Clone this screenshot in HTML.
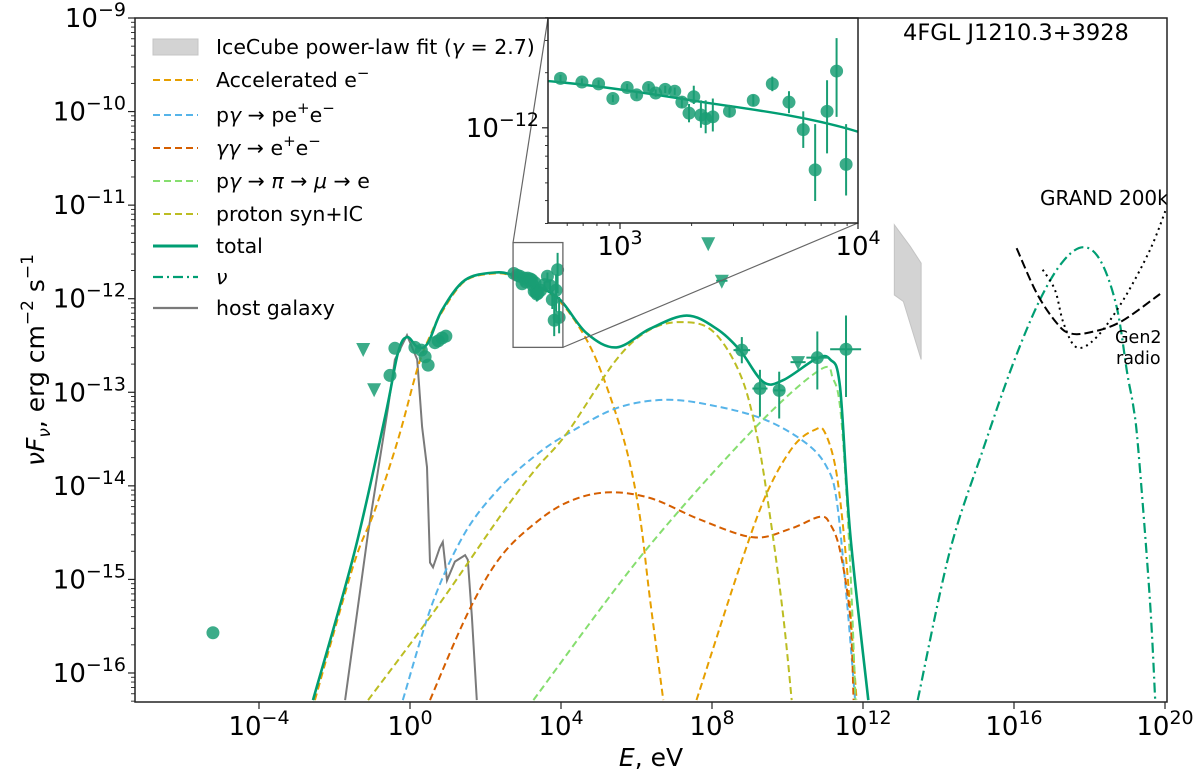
<!DOCTYPE html>
<html><head><meta charset="utf-8"><title>SED 4FGL J1210.3+3928</title>
<style>
html,body{margin:0;padding:0;background:#fff;overflow:hidden;width:1200px;height:777px;}
svg{display:block;font-family:"DejaVu Sans","Liberation Sans",sans-serif;}
</style></head>
<body>
<svg id="chart" width="1200" height="777" viewBox="0 0 1200 777" xmlns="http://www.w3.org/2000/svg">
<defs>
<clipPath id="mainClip"><rect x="135" y="18" width="1032" height="684"/></clipPath>
<clipPath id="insetClip"><rect x="548" y="18" width="310" height="205"/></clipPath>
</defs>
<rect x="0" y="0" width="1200" height="777" fill="#fff"/>
<g id="main" clip-path="url(#mainClip)"></g>
<g id="over"></g>
</svg>
<script>
// ---------- data (log10 E [eV], log10 vFv [erg cm^-2 s^-1]) ----------
const totalE   = [-2.57,-1.46,-0.66,-0.32,-0.08,0.21,0.48,0.85,1.46,2.25,2.74,3.3,3.97,4.68,5.47,6.36,7.33,8.12,8.74,9.36,9.89,10.77,11.13,11.39,11.66,12.14];
const totalF   = [-16.29,-14.69,-13.26,-12.58,-12.41,-12.52,-12.47,-12.12,-11.80,-11.72,-11.75,-11.85,-12.01,-12.37,-12.52,-12.32,-12.18,-12.32,-12.55,-12.89,-12.87,-12.64,-12.65,-12.94,-14.51,-16.29];
const accE1    = [-2.52,-1.5,-0.93,-0.32,0.21,0.55,0.85,1.46,2.25,2.74,3.3,3.97,4.68,5.21,5.74,6.09,6.36,6.71];
const accF1    = [-16.29,-14.85,-14.26,-13.51,-12.73,-12.38,-12.14,-11.81,-11.73,-11.76,-11.86,-12.03,-12.44,-12.94,-13.62,-14.33,-15.22,-16.29];
const accE2    = [7.59,8.74,9.45,10.15,10.73,10.99,11.30,11.57,11.83];
const accF2    = [-16.29,-14.86,-14.08,-13.58,-13.40,-13.43,-13.87,-14.86,-16.29];
const bheE     = [-0.19,0.6,1.46,2.38,3.31,4.15,5.47,6.80,8.12,9.45,10.51,11.04,11.30,11.57,11.79];
const bheF     = [-16.29,-15.25,-14.50,-14.02,-13.68,-13.45,-13.17,-13.08,-13.15,-13.30,-13.55,-13.80,-14.15,-15.22,-16.29];
const ggE      = [0.53,1.53,2.38,3.31,4.2,5.21,6.36,7.68,9.09,10.07,10.86,11.13,11.39,11.66,11.75];
const ggF      = [-16.29,-15.36,-14.77,-14.40,-14.17,-14.07,-14.13,-14.36,-14.55,-14.46,-14.33,-14.41,-14.69,-15.40,-16.29];
const pionE    = [3.27,6.18,9.09,10.86,11.21,11.39,11.55,11.7,11.8];
const pionF    = [-16.29,-14.72,-13.40,-12.76,-12.86,-13.15,-14.0,-15.2,-16.29];
const psynE    = [-1.11,0.66,2.38,3.31,4.15,5.47,6.36,7.24,8.03,8.74,9.18,9.54,9.89,10.11];
const psynF    = [-16.29,-15.33,-14.33,-13.83,-13.44,-12.65,-12.33,-12.25,-12.35,-12.80,-13.44,-14.33,-15.40,-16.29];
const hostE    = [-1.72,-1.11,-0.58,-0.40,-0.08,0.19,0.32,0.45,0.53,0.61,0.79,0.87,0.98,1.19,1.46,1.53,1.64,1.77];
const hostF    = [-16.29,-14.50,-13.16,-12.65,-12.39,-12.65,-13.37,-13.80,-14.82,-14.87,-14.66,-14.60,-15.01,-14.81,-14.74,-14.79,-15.40,-16.29];
const nuE      = [13.45,14.3,15.19,15.98,16.69,17.3,17.84,18.3,18.72,19.0,19.16,19.29,19.6,19.74];
const nuF      = [-16.29,-14.7,-13.60,-12.69,-12.01,-11.6,-11.45,-11.6,-12.09,-12.8,-13.15,-13.60,-15.22,-16.29];
const grandE   = [16.76,17.09,17.31,17.66,18.19,18.90,19.60,20.04];
const grandF   = [-11.69,-11.91,-12.26,-12.52,-12.41,-12.01,-11.48,-11.03];
const gen2E    = [16.07,16.60,17.13,17.48,18.01,18.81,19.87];
const gen2F    = [-11.46,-11.94,-12.26,-12.37,-12.36,-12.25,-11.95];
const icUpE    = [12.83,13.25,13.54];
const icUpF    = [-11.21,-11.44,-11.62];
const icLoE    = [12.83,13.07,13.54];
const icLoF    = [-11.96,-12.03,-12.65];
// observed points
const ptE      = [-5.22,-0.40,-0.53,0.13,0.30,0.40,0.48,0.66,0.75,0.85,0.95];
const ptF      = [-15.57,-12.53,-12.82,-12.52,-12.55,-12.62,-12.71,-12.47,-12.45,-12.42,-12.40];
const errE     = [8.79,9.27,9.78,10.79,11.55];
const errF     = [-12.55,-12.96,-12.98,-12.63,-12.54];
const errFlo   = [-12.69,-13.26,-13.28,-12.97,-13.05];
const errFhi   = [-12.41,-12.76,-12.78,-12.35,-12.18];
const errElo   = [8.57,9.07,9.63,10.50,11.13];
const errEhi   = [9.01,9.47,9.93,11.08,11.95];
const ulE      = [-1.24,-0.95,7.90,8.26,10.28];
const ulF      = [-12.57,-13.00,-11.44,-11.84,-12.71];
const ulElo    = [-1.24,-0.95,7.90,8.11,10.08];
const ulEhi    = [-1.24,-0.95,7.90,8.41,10.48];
// X-ray points (shown in inset and in main box)
const xrE      = [2.75,2.84,2.91,2.97,3.03,3.07,3.12,3.15,3.19,3.23,3.26,3.29,3.31,3.34,3.36,3.39,3.46,3.56,3.64,3.71,3.77,3.82,3.87,3.91,3.95];
const xrF      = [-11.73,-11.75,-11.76,-11.84,-11.78,-11.82,-11.78,-11.81,-11.79,-11.80,-11.86,-11.92,-11.83,-11.93,-11.95,-11.94,-11.91,-11.85,-11.76,-11.86,-12.01,-12.23,-11.91,-11.69,-12.20];
const xrFlo    = [-11.75,-11.77,-11.78,-11.86,-11.80,-11.84,-11.80,-11.83,-11.81,-11.82,-11.89,-11.97,-11.87,-12.00,-12.03,-12.02,-11.94,-11.88,-11.80,-11.92,-12.11,-12.40,-12.14,-11.94,-12.37];
const xrFhi    = [-11.71,-11.73,-11.74,-11.82,-11.76,-11.80,-11.76,-11.79,-11.77,-11.78,-11.83,-11.87,-11.77,-11.85,-11.85,-11.84,-11.88,-11.82,-11.72,-11.80,-11.91,-11.98,-11.74,-11.51,-11.98];
// ticks
const xTickExp = [-4,0,4,8,12,16,20];
const yTickExp = [-9,-10,-11,-12,-13,-14,-15,-16];
const insetXTickExp = [3,4];
const insetYTickExp = [-12];

// ---------- scales ----------
const X = l => 259 + (l + 4) * 37.75;
const Y = l => 18 + (-9 - l) * 93.57;
const IX = l => 620 + (l - 3) * 238;
const IY = l => 18 + (-11.40 - l) * 183;

const NS = "http://www.w3.org/2000/svg";
const svg = document.getElementById('chart');
const main = document.getElementById('main');
const over = document.getElementById('over');
function mk(tag, attrs, parent){
  const e = document.createElementNS(NS, tag);
  for (const k in attrs) e.setAttribute(k, attrs[k]);
  (parent || svg).appendChild(e);
  return e;
}
function smoothPath(pts){
  if (pts.length < 2) return '';
  let d = 'M' + pts[0][0].toFixed(1) + ',' + pts[0][1].toFixed(1);
  for (let i = 0; i < pts.length - 1; i++){
    const p0 = pts[i-1] || pts[i], p1 = pts[i], p2 = pts[i+1], p3 = pts[i+2] || p2;
    const c1x = p1[0] + (p2[0]-p0[0])/6, c1y = p1[1] + (p2[1]-p0[1])/6;
    const c2x = p2[0] - (p3[0]-p1[0])/6, c2y = p2[1] - (p3[1]-p1[1])/6;
    d += ' C' + c1x.toFixed(1)+','+c1y.toFixed(1)+' '+c2x.toFixed(1)+','+c2y.toFixed(1)+' '+p2[0].toFixed(1)+','+p2[1].toFixed(1);
  }
  return d;
}
function curve(es, fs, sx, sy, style, parent, name, smooth){
  const pts = es.map((e,i)=>[sx(e), sy(fs[i])]);
  const d = smooth === false ? 'M' + pts.map(p=>p[0].toFixed(1)+','+p[1].toFixed(1)).join(' L') : smoothPath(pts);
  const p = mk('path', Object.assign({d:d, fill:'none'}, style), parent);
  
  
  return p;
}

const C = {green:'#009E73', orange:'#E69F00', blue:'#56B4E9', red:'#D55E00', lgreen:'#86DE6F', olive:'#BCBD22', grey:'#7a7a7a'};
const dash = {'stroke-dasharray':'7,4', 'stroke-width':2};

// IceCube band
(function(){
  const pts = icUpE.map((e,i)=>[X(e),Y(icUpF[i])]).concat(icLoE.map((e,i)=>[X(e),Y(icLoF[i])]).reverse());
  const p = mk('polygon', {points: pts.map(q=>q.join(',')).join(' '), fill:'#d3d3d3', stroke:'#c4c4c4', 'stroke-width':1}, main);
  
  
})();

curve(hostE, hostF, X, Y, {stroke:C.grey, 'stroke-width':2}, main, 'host-galaxy-line', false);
curve(accE1, accF1, X, Y, Object.assign({stroke:C.orange}, dash), main, 'accelerated-e-line');
curve(accE2, accF2, X, Y, Object.assign({stroke:C.orange}, dash), main, 'accelerated-e-line-2');
curve(bheE, bheF, X, Y, Object.assign({stroke:C.blue}, dash), main, 'bethe-heitler-line');
curve(ggE, ggF, X, Y, Object.assign({stroke:C.red}, dash), main, 'gamma-gamma-line');
curve(pionE, pionF, X, Y, Object.assign({stroke:C.lgreen}, dash), main, 'pion-cascade-line');
curve(psynE, psynF, X, Y, Object.assign({stroke:C.olive}, dash), main, 'proton-syn-line');
curve(totalE, totalF, X, Y, {stroke:C.green, 'stroke-width':2.6}, main, 'total-line');
curve(nuE, nuF, X, Y, {stroke:C.green, 'stroke-width':2.2, 'stroke-dasharray':'10,4,2,4'}, main, 'neutrino-line');
curve(grandE, grandF, X, Y, {stroke:'#000', 'stroke-width':2, 'stroke-dasharray':'2,4'}, main, 'grand-200k-line');
curve(gen2E, gen2F, X, Y, {stroke:'#000', 'stroke-width':2, 'stroke-dasharray':'9,4'}, main, 'gen2-radio-line');

const mcol = '#1a9e74';
function circle(cx, cy, parent, name){
  const c = mk('circle', {cx:cx, cy:cy, r:6.5, fill:mcol, 'fill-opacity':0.85}, parent);
  
  
}
function vbar(x, y1, y2, parent){ mk('line',{x1:x,x2:x,y1:y1,y2:y2,stroke:mcol,'stroke-width':2}, parent); }
function hbar(y, x1, x2, parent){ mk('line',{x1:x1,x2:x2,y1:y,y2:y,stroke:mcol,'stroke-width':2}, parent); }

ptE.forEach((e,i)=>circle(X(e), Y(ptF[i]), main, 'data-point'));
errE.forEach((e,i)=>{
  vbar(X(e), Y(errFlo[i]), Y(errFhi[i]), main);
  hbar(Y(errF[i]), X(errElo[i]), X(errEhi[i]), main);
  circle(X(e), Y(errF[i]), main, 'gamma-data-point');
});
ulE.forEach((e,i)=>{
  const x = X(e), y = Y(ulF[i]);
  if (ulEhi[i] > ulElo[i]) hbar(y-3, X(ulElo[i]), X(ulEhi[i]), main);
  const t = mk('polygon', {points:(x-7)+','+(y-9)+' '+(x+7)+','+(y-9)+' '+x+','+(y+5), fill:mcol, 'fill-opacity':0.85}, main);
  
  
});
xrE.forEach((e,i)=>{
  vbar(X(e), Y(xrFlo[i]), Y(xrFhi[i]), main);
  circle(X(e), Y(xrF[i]), main, 'xray-data-point');
});

// zoom box and connectors
const bx1 = X(2.73), bx2 = X(4.05), by1 = Y(-11.40), by2 = Y(-12.52);
const zb = mk('rect', {x:bx1, y:by1, width:bx2-bx1, height:by2-by1, fill:'none', stroke:'#666', 'stroke-width':1.3}, over);


mk('line', {x1:bx1, y1:by1, x2:548, y2:18, stroke:'#666', 'stroke-width':1.2}, over);
mk('line', {x1:bx2, y1:by2, x2:858, y2:223, stroke:'#666', 'stroke-width':1.2}, over);

// ---------- inset ----------
const inset = mk('g', {}, over);


mk('rect', {x:548, y:18, width:310, height:205, fill:'#fff'}, inset);
const ic = mk('g', {'clip-path':'url(#insetClip)'}, inset);
curve(totalE, totalF, IX, IY, {stroke:C.green, 'stroke-width':2.4}, ic, 'inset-total-line');
xrE.forEach((e,i)=>{
  vbar(IX(e), IY(xrFlo[i]), IY(xrFhi[i]), ic);
  circle(IX(e), IY(xrF[i]), ic, 'inset-data-point');
});
mk('rect', {x:548, y:18, width:310, height:205, fill:'none', stroke:'#222', 'stroke-width':1.5}, inset);

function powLabel(x, y, exp, anchor, parent, name, fs){
  fs = fs || 26;
  const t = mk('text', {x:x, y:y, 'font-size':fs, 'text-anchor':anchor, fill:'#000'}, parent);
  
  
  t.appendChild(document.createTextNode('10'));
  const s = mk('tspan', {'font-size':Math.round(fs*0.72), dy:-Math.round(fs*0.42)}, t);
  s.textContent = String(exp).replace('-', '\u2212');
  return t;
}
// inset ticks
insetXTickExp.forEach(ex=>{
  const x = IX(ex);
  mk('line',{x1:x,x2:x,y1:223,y2:229,stroke:'#222','stroke-width':1.2}, inset);
  powLabel(x, 255, ex, 'middle', inset, 'inset-x-tick-label');
});
[6,7,8,9].forEach(m=>{ const x = IX(2+Math.log10(m)); mk('line',{x1:x,x2:x,y1:223,y2:226,stroke:'#222','stroke-width':0.9}, inset); });
[2,3,4,5,6,7,8,9].forEach(m=>{ const x = IX(3+Math.log10(m)); mk('line',{x1:x,x2:x,y1:223,y2:226,stroke:'#222','stroke-width':0.9}, inset); });
insetYTickExp.forEach(ex=>{
  const y = IY(ex);
  mk('line',{x1:542,x2:548,y1:y,y2:y,stroke:'#222','stroke-width':1.2}, inset);
  powLabel(539, y+9, ex, 'end', inset, 'inset-y-tick-label');
});
[2,3,4].forEach(m=>{ const y = IY(-12+Math.log10(m)); mk('line',{x1:545,x2:548,y1:y,y2:y,stroke:'#222','stroke-width':0.9}, inset); });
[3,4,5,6,7,8,9].forEach(m=>{ const y = IY(-13+Math.log10(m)); mk('line',{x1:545,x2:548,y1:y,y2:y,stroke:'#222','stroke-width':0.9}, inset); });

// ---------- main axes ----------
const frame = mk('rect', {x:135, y:18, width:1032, height:684, fill:'none', stroke:'#222', 'stroke-width':1.5}, over);


xTickExp.forEach(ex=>{
  const x = X(ex);
  mk('line',{x1:x,x2:x,y1:702,y2:709,stroke:'#222','stroke-width':1.2}, over);
  powLabel(x, 735, ex, 'middle', over, 'x-tick-label');
});
yTickExp.forEach(ex=>{
  const y = Y(ex);
  mk('line',{x1:128,x2:135,y1:y,y2:y,stroke:'#222','stroke-width':1.2}, over);
  powLabel(126, y+9, ex, 'end', over, 'y-tick-label');
});
for (let d=-17; d<=-10; d++){
  for (let m=2; m<=9; m++){
    const y = Y(d+Math.log10(m));
    if (y < 18 || y > 702) continue;
    mk('line',{x1:131,x2:135,y1:y,y2:y,stroke:'#222','stroke-width':0.9}, over);
  }
}

// axis titles
const xt = mk('text', {x:651, y:766, 'font-size':25, 'text-anchor':'middle'}, over);


xt.innerHTML = '<tspan font-style="italic">E</tspan>, eV';
const yt = mk('text', {x:0, y:0, 'font-size':25, 'text-anchor':'middle', transform:'translate(44,360) rotate(-90)'}, over);


yt.innerHTML = '<tspan font-style="italic">νF</tspan><tspan font-style="italic" font-size="17" dy="6">ν</tspan><tspan dy="-6">, erg cm</tspan><tspan font-size="17" dy="-11">−2</tspan><tspan dy="11"> s</tspan><tspan font-size="17" dy="-11">−1</tspan>';

// annotations
function note(x, y, txt, fs, name, anchor, clip){
  const t = mk('text', {x:x, y:y, 'font-size':fs, 'text-anchor':anchor||'start', fill:'#000'}, clip ? main : over);
  
  
  t.textContent = txt;
  return t;
}
note(903, 40, '4FGL J1210.3+3928', 22.5, 'source-title', 'start');
note(1040, 205, 'GRAND 200k', 20, 'grand-label', 'start', true);
note(1115, 343, 'Gen2', 17.5, 'gen2-label', 'start', true);
note(1116, 364, 'radio', 17.5, 'gen2-radio-label', 'start', true);

// ---------- legend ----------
const legend = mk('g', {}, over);


const legRows = [47,80,115,148,181,214,246,277,308];
const legItems = [
  {html:'IceCube power-law fit (<tspan font-style="italic">γ</tspan> = 2.7)', kind:'patch'},
  {html:'Accelerated e<tspan font-size="15" dy="-9">−</tspan>', kind:'line', style:Object.assign({stroke:C.orange}, dash)},
  {html:'p<tspan font-style="italic">γ</tspan> → pe<tspan font-size="15" dy="-9">+</tspan><tspan dy="9">e</tspan><tspan font-size="15" dy="-9">−</tspan>', kind:'line', style:Object.assign({stroke:C.blue}, dash)},
  {html:'<tspan font-style="italic">γγ</tspan> → e<tspan font-size="15" dy="-9">+</tspan><tspan dy="9">e</tspan><tspan font-size="15" dy="-9">−</tspan>', kind:'line', style:Object.assign({stroke:C.red}, dash)},
  {html:'p<tspan font-style="italic">γ</tspan> → <tspan font-style="italic">π</tspan> → <tspan font-style="italic">μ</tspan> → e', kind:'line', style:Object.assign({stroke:C.lgreen}, dash)},
  {html:'proton syn+IC', kind:'line', style:Object.assign({stroke:C.olive}, dash)},
  {html:'total', kind:'line', style:{stroke:C.green, 'stroke-width':3}},
  {html:'<tspan font-style="italic">ν</tspan>', kind:'line', style:{stroke:C.green, 'stroke-width':2.2, 'stroke-dasharray':'10,4,2,4'}},
  {html:'host galaxy', kind:'line', style:{stroke:C.grey, 'stroke-width':2.2}}
];
legItems.forEach((it, i)=>{
  const y = legRows[i];
  const g = mk('g', {}, legend);
  
  
  if (it.kind === 'patch') mk('rect', {x:153, y:y-8, width:45, height:16, fill:'#d3d3d3', stroke:'#c4c4c4'}, g);
  else mk('line', Object.assign({x1:153, x2:198, y1:y, y2:y}, it.style), g);
  const t = mk('text', {x:216, y:y+7, 'font-size':20.5}, g);
  t.innerHTML = it.html;
});
</script>
</body></html>
